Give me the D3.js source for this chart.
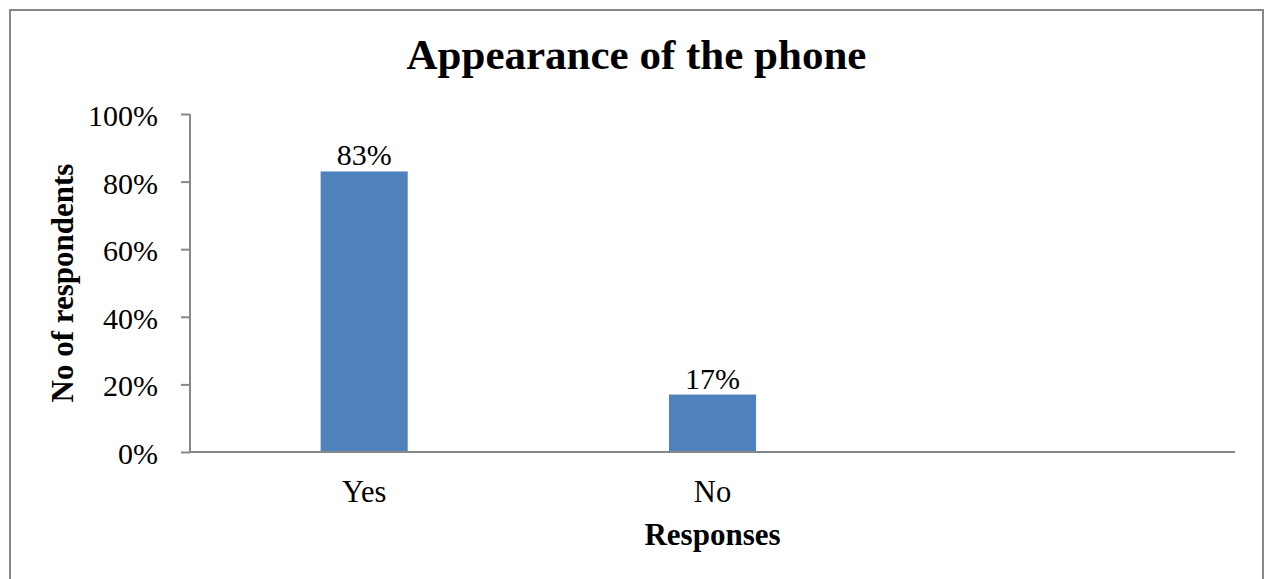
<!DOCTYPE html>
<html>
<head>
<meta charset="utf-8">
<script src="https://cdn.jsdelivr.net/npm/d3@7"></script>
<style>
  html, body { margin: 0; padding: 0; background: #fff; }
  svg { display: block; }
  text { font-family: "Liberation Serif", "Times New Roman", serif; fill: #000; }
</style>
</head>
<body>
<svg id="chart" width="1264" height="579"></svg>
<script>
// Survey results: share of respondents for whom the phone's appearance matters
const categories = ["Yes", "No", ""];
const values = [83, 17, null];
const yTicks = [0, 20, 40, 60, 80, 100];
const title = "Appearance of the phone";
const xTitle = "Responses";
const yTitle = "No of respondents";

const svg = d3.select("#chart");
const W = 1264, H = 579;
const plot = { left: 190, right: 1235, top: 114, bottom: 452 };
const axisColor = "#878787";

// outer frame (open at the bottom edge)
svg.append("rect")
  .attr("x", 10).attr("y", 10)
  .attr("width", 1253).attr("height", H + 20)
  .attr("fill", "none")
  .attr("stroke", axisColor)
  .attr("stroke-width", 2);

const x = d3.scaleBand()
  .domain(categories)
  .range([plot.left, plot.right])
  .paddingInner(0.75)
  .paddingOuter(0.375);

const y = d3.scaleLinear()
  .domain([0, 100])
  .range([plot.bottom, plot.top]);

// bars
const data = categories.map((c, i) => ({ c, v: values[i] })).filter(d => d.v != null);

svg.append("g").selectAll("rect")
  .data(data)
  .join("rect")
  .attr("x", d => x(d.c))
  .attr("y", d => y(d.v))
  .attr("width", x.bandwidth())
  .attr("height", d => y(0) - y(d.v))
  .attr("fill", "#4F81BD");

// value labels
svg.append("g").selectAll("text")
  .data(data)
  .join("text")
  .attr("x", d => x(d.c) + x.bandwidth() / 2)
  .attr("y", d => y(d.v) - 6)
  .attr("text-anchor", "middle")
  .attr("font-size", 30)
  .text(d => d.v + "%");

// y axis
const yAxis = d3.axisLeft(y)
  .tickValues(yTicks)
  .tickFormat(d => d + "%")
  .tickSize(9)
  .tickPadding(23);

const gy = svg.append("g")
  .attr("transform", `translate(${plot.left},0)`)
  .call(yAxis);
gy.select(".domain").attr("stroke", axisColor).attr("stroke-width", 2)
  .attr("d", `M0,${plot.top}V${plot.bottom}`);
gy.selectAll(".tick line").attr("stroke", axisColor).attr("stroke-width", 2);
gy.selectAll(".tick text")
  .attr("font-family", "'Liberation Serif', 'Times New Roman', serif")
  .attr("font-size", 30)
  .attr("fill", "#000")
  .attr("dy", "0.38em");

// x axis (no tick marks)
const xAxis = d3.axisBottom(x).tickSize(0).tickPadding(28);
const gx = svg.append("g")
  .attr("transform", `translate(0,${plot.bottom})`)
  .call(xAxis);
gx.select(".domain").attr("stroke", axisColor).attr("stroke-width", 2)
  .attr("d", `M${plot.left},0H${plot.right}`);
gx.selectAll(".tick text")
  .attr("font-family", "'Liberation Serif', 'Times New Roman', serif")
  .attr("font-size", 30.5)
  .attr("fill", "#000")
  .attr("dy", "0.71em");

// titles
svg.append("text")
  .attr("x", (408 + 865) / 2)
  .attr("y", 69)
  .attr("text-anchor", "middle")
  .attr("font-size", 43)
  .attr("font-weight", "bold")
  .text(title);

svg.append("text")
  .attr("x", x("No") + x.bandwidth() / 2)
  .attr("y", 545)
  .attr("text-anchor", "middle")
  .attr("font-size", 31)
  .attr("font-weight", "bold")
  .text(xTitle);

svg.append("text")
  .attr("transform", `translate(73,${(plot.top + plot.bottom) / 2}) rotate(-90)`)
  .attr("text-anchor", "middle")
  .attr("font-size", 31)
  .attr("font-weight", "bold")
  .text(yTitle);
</script>
</body>
</html>
